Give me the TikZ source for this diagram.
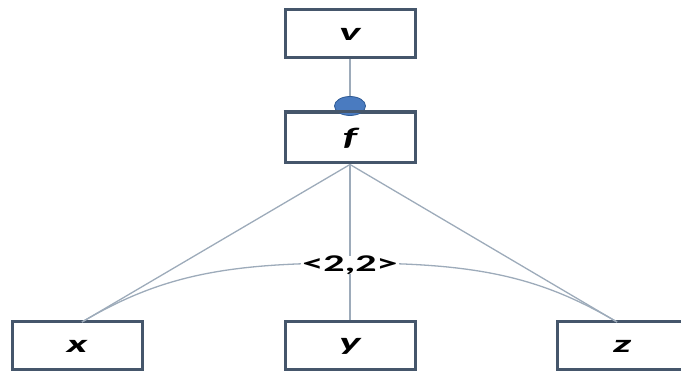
\documentclass[tikz,border=0pt]{standalone}
\usepackage{fontspec}
\usepackage{graphicx}
\usetikzlibrary{shapes.geometric}
\setmainfont{Carlito}
\definecolor{boxedge}{HTML}{45566B}
\definecolor{wire}{HTML}{9DABBA}
\definecolor{knob}{HTML}{4A7BC0}
\definecolor{knobedge}{HTML}{2F5A94}
% wide, heavy lettering
\newcommand{\widetxt}[1]{\scalebox{1.8}[1]{#1}}
\begin{document}
\begin{tikzpicture}[x=1pt,y=-1pt,
  varbox/.style={draw=boxedge,line width=3pt,fill=white,minimum width=130pt,
    minimum height=48pt,inner sep=0pt,font=\fontsize{25}{25}\selectfont\bfseries\itshape},
  wireline/.style={draw=wire,line width=1.3pt}]
\useasboundingbox (0,0) rectangle (681,371);
\clip (0,0) rectangle (681,371);
% top boxes
\node[varbox] (v) at (350,34) {\widetxt{v}};
\node[varbox,minimum height=50pt] (f) at (350,138) {\widetxt{f}};
% bottom boxes
\node[varbox] (x) at (77,346) {\widetxt{x}};
\node[varbox] (y) at (350,346) {\widetxt{y}};
\node[varbox] (z) at (622,346) {\widetxt{z}};
% connector v -- f with a round knob on f
\draw[wireline] (v.south) -- (f.north);
\node[ellipse,draw=knobedge,fill=knob,line width=0.8pt,minimum width=31pt,
  minimum height=19pt,inner sep=0pt] (dot) at (350,106) {};
\draw[boxedge,line width=3pt] (f.north west) -- (f.north east);
% fan-out from f
\coordinate (xt) at (82,322);
\coordinate (zt) at (617,322);
\draw[wireline] (f.south) -- (xt);
\draw[wireline] (f.south) -- (zt);
\draw[wireline] (f.south) -- (y.north);
% cardinality arc
\draw[wireline] (xt) .. controls (160,276) and (225,263) .. (350,263)
  .. controls (475,263) and (539,276) .. (zt);
\node[fill=white,inner xsep=1pt,inner ysep=0pt,
  font=\fontsize{24}{24}\selectfont\bfseries] (lab) at (350,265) {\scalebox{1.75}[1]{<2,2>}};
\draw[wireline] (lab.south) -- (y.north);
\end{tikzpicture}
\end{document}
